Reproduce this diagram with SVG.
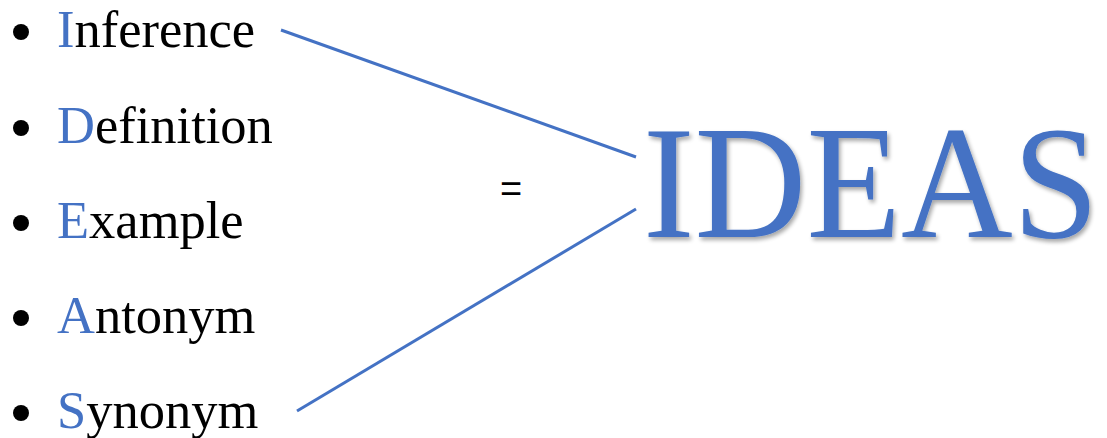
<svg xmlns="http://www.w3.org/2000/svg" width="1107" height="438" viewBox="0 0 1107 438">
<style>
.item{font-family:"Liberation Serif","Times New Roman",serif;font-size:52.5px;fill:#000}
.hl{fill:#4472C4}
.bul{fill:#000}
.conn{stroke:#4472C4;stroke-width:3;fill:none}
.eq{font-family:"Liberation Sans",Arial,sans-serif;font-size:38px;fill:#000}
.big{font-family:"Liberation Serif","Times New Roman",serif;font-size:160px;fill:#4472C4}
</style>
<defs>
<filter id="sh" x="-5%" y="-10%" width="115%" height="130%">
<feGaussianBlur in="SourceAlpha" stdDeviation="2"/>
<feOffset dx="2" dy="3" result="b"/>
<feComponentTransfer><feFuncA type="linear" slope="0.35"/></feComponentTransfer>
<feMerge><feMergeNode/><feMergeNode in="SourceGraphic"/></feMerge>
</filter>
</defs>
<rect width="1107" height="438" fill="#fff"/>
<g id="connectors">
<line class="conn" x1="281" y1="30" x2="636" y2="157"/>
<line class="conn" x1="297" y1="411" x2="636" y2="209"/>
</g>
<g id="item-inference"><circle class="bul" cx="21" cy="32" r="8"/><text class="item" x="57" y="47"><tspan class="hl">I</tspan>nference</text></g>
<g id="item-definition"><circle class="bul" cx="21" cy="128" r="8"/><text class="item" x="57" y="143"><tspan class="hl">D</tspan>efinition</text></g>
<g id="item-example"><circle class="bul" cx="21" cy="223" r="8"/><text class="item" x="57" y="238"><tspan class="hl">E</tspan>xample</text></g>
<g id="item-antonym"><circle class="bul" cx="21" cy="318" r="8"/><text class="item" x="57" y="333"><tspan class="hl">A</tspan>ntonym</text></g>
<g id="item-synonym"><circle class="bul" cx="21" cy="413" r="8"/><text class="item" x="57" y="428"><tspan class="hl">S</tspan>ynonym</text></g>
<g id="equals"><text class="eq" x="511" y="202" text-anchor="middle">=</text></g>
<g id="ideas"><text class="big" x="643" y="237" textLength="456" lengthAdjust="spacingAndGlyphs" filter="url(#sh)">IDEAS</text></g>
</svg>
